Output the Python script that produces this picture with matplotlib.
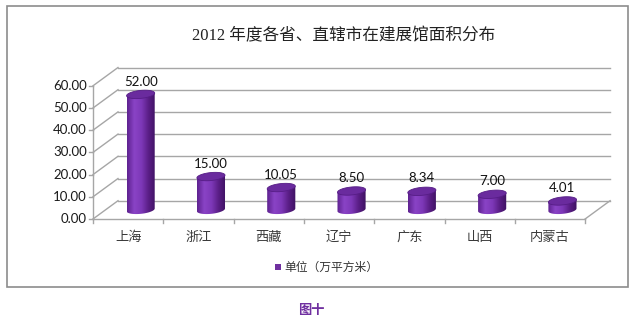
import matplotlib.pyplot as plt
import numpy as np
from matplotlib.patches import Polygon, Rectangle
from matplotlib.colors import LinearSegmentedColormap

# data
categories = ['上海', '浙江', '西藏', '辽宁', '广东', '山西', '内蒙古']
areas = [52.00, 15.00, 10.05, 8.50, 8.34, 7.00, 4.01]
y_ticks = [0, 10, 20, 30, 40, 50, 60]
title = '2012 年度各省、直辖市在建展馆面积分布'
legend_label = '单位（万平方米）'
caption = '图十'

num_font = ['Lato', 'DejaVu Sans']
cjk_font = ['Noto Sans CJK SC', 'DejaVu Sans']
serif_font = ['Liberation Serif', 'Noto Sans CJK SC']

W, H = 639, 324
fig = plt.figure(figsize=(W / 100, H / 100), dpi=100)
ax = fig.add_axes([0, 0, 1, 1])
ax.set_axis_off()

# pixel layout of the pseudo-3D box, converted to data units
cat_px = 70.3      # pixels per category
unit_px = 2.22     # pixels per value unit
x0_px, y0_px = 93, 219
xlim = ((0 - x0_px) / cat_px - 0.5, (W - x0_px) / cat_px - 0.5)
ylim = ((y0_px - H) / unit_px, (y0_px - 0) / unit_px)

ddx = 25 / cat_px   # depth offset in category units
ddy = 18.3 / unit_px  # depth offset in value units
n = len(categories)
left, right = -0.5, n - 0.5
ymax = y_ticks[-1]

grid_c = '#a6a6a6'
# back wall gridlines and left wall diagonals
for v in y_ticks:
    ax.plot([left + ddx, right + ddx], [v + ddy, v + ddy], color=grid_c, lw=1, zorder=1)
    ax.plot([left, left + ddx], [v, v + ddy], color=grid_c, lw=1, zorder=1)
    ax.plot([left - 0.06, left], [v, v], color=grid_c, lw=1, zorder=1)
    ax.text(left - 0.09, v, f'{v:.2f}', ha='right', va='center',
            fontsize=9.5, family=num_font, color='#1a1a1a')
# front axis lines and floor edge
ax.plot([left, left], [0, ymax], color=grid_c, lw=1, zorder=1)
ax.plot([left, right], [0, 0], color=grid_c, lw=1, zorder=1)
ax.plot([right, right + ddx], [0, ddy], color=grid_c, lw=1, zorder=1)
for i in range(n + 1):
    ax.plot([left + i, left + i], [0, -2.0], color=grid_c, lw=1, zorder=1)

for i, cat in enumerate(categories):
    ax.text(i, -8.3, cat, ha='center', va='center', fontsize=9.5,
            family=cjk_font, color='#3a3a3a')

# cylinders
cmap = LinearSegmentedColormap.from_list(
    'cyl', ['#5e2290', '#8a43c6', '#7d38b8', '#5a1e86', '#3f1262'])
a = 0.2      # radius along x (category units)
b = 1.8      # half height of the ellipse (value units)
k = 0.6      # tilt of the ellipse


def arc(cx, cy, t0, t1, num=60):
    t = np.linspace(t0, t1, num)
    return np.column_stack([cx + a * np.cos(t), cy + b * np.sin(t) + k * np.cos(t)])


for i, val in enumerate(areas):
    cx = i + ddx / 2
    base = ddy / 2
    top = base + val
    bottom_arc = arc(cx, base, np.pi, 2 * np.pi)
    body_pts = np.vstack([[[cx - a, top - k]], bottom_arc, [[cx + a, top + k]]])
    body = Polygon(body_pts, closed=True, facecolor='none', edgecolor='none', zorder=3)
    ax.add_patch(body)
    grad = np.linspace(0, 1, 100).reshape(1, -1)
    im = ax.imshow(grad, extent=[cx - a, cx + a, base - b - 1, top + b + 1],
                   aspect='auto', cmap=cmap, zorder=3, interpolation='bilinear')
    im.set_clip_path(body)
    cap = Polygon(arc(cx, top, 0, 2 * np.pi, 80), closed=True,
                  facecolor='#6a2b9e', edgecolor='#561d86', lw=0.6, zorder=4)
    ax.add_patch(cap)
    ax.text(cx, top + b + 4.0, f'{val:.2f}', ha='center', va='center',
            fontsize=9.5, family=num_font, color='#111111', zorder=5)

ax.set_xlim(*xlim)
ax.set_ylim(*ylim)

# title, legend, caption and frame in figure pixels
def fx(px):
    return px / W


def fy(py):
    return 1 - py / H


fig.text(fx(344), fy(36), title, ha='center', va='center', fontsize=12,
         family=serif_font, color='#222222')
fig.patches.append(Rectangle((fx(275), fy(270)), 6 / W, 6 / H, transform=fig.transFigure,
                             facecolor='#7030a0', edgecolor='none'))
fig.text(fx(284), fy(267), legend_label, ha='left', va='center', fontsize=8.5,
         family=cjk_font, color='#333333')
fig.patches.append(Rectangle((fx(7), fy(287)), 621 / W, 281 / H, transform=fig.transFigure,
                             facecolor='none', edgecolor='#8c8c8c', lw=1.2))
fig.text(fx(311), fy(310), caption, ha='center', va='center', fontsize=9.5,
         family=cjk_font, color='#7030a0', fontweight='bold')

fig.savefig('out.png', dpi=100)
